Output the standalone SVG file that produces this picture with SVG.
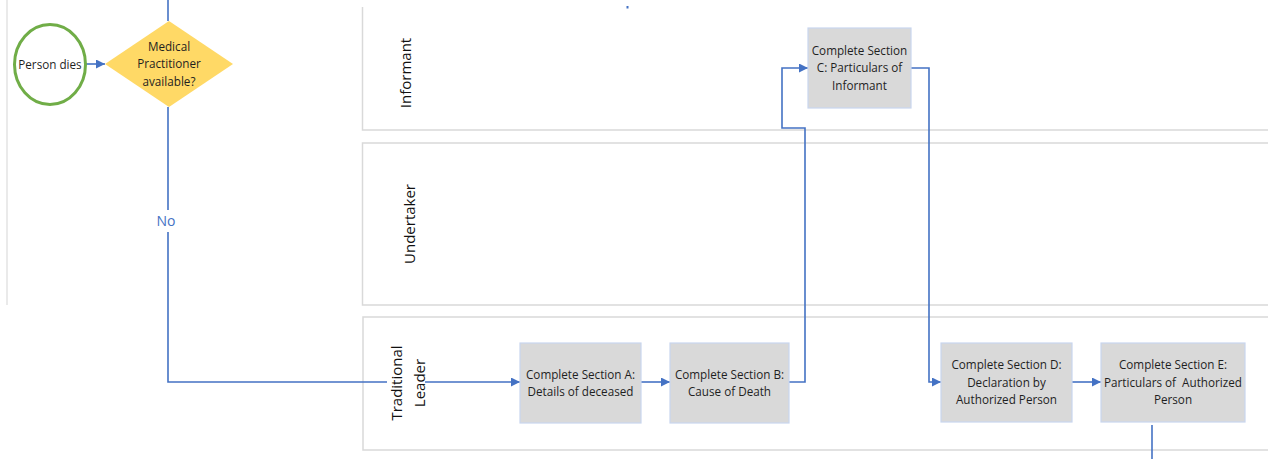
<svg xmlns="http://www.w3.org/2000/svg" width="1268" height="459" viewBox="0 0 1268 459">
  <style>
    .lane { fill: #ffffff; stroke: #d9d9d9; stroke-width: 1.5; }
    .lane-label { font-family: "Open Sans", "Liberation Sans", sans-serif; font-size: 15px; fill: #111111; text-anchor: middle; }
    .step { fill: #d9d9d9; stroke: #c9d6ee; stroke-width: 1.2; }
    .step-text { font-family: "Open Sans", "Liberation Sans", sans-serif; font-size: 11.7px; fill: #1f1f1f; text-anchor: middle; }
    .flow { fill: none; stroke: #4472c4; stroke-width: 1.6; }
    .flow-label { font-family: "Open Sans", "Liberation Sans", sans-serif; font-size: 14px; fill: #4472c4; text-anchor: middle; }
  </style>
  <defs>
    <marker id="arrow" viewBox="0 0 10 10" refX="10" refY="5" markerWidth="9" markerHeight="9" markerUnits="userSpaceOnUse" orient="auto">
      <path d="M0,0 L10,5 L0,10 z" fill="#4472c4"/>
    </marker>
  </defs>

  <rect width="1268" height="459" fill="#ffffff"/>

  <!-- left margin rule -->
  <line x1="7" y1="0" x2="7" y2="305" stroke="#e3e3e3" stroke-width="1.5"/>

  <!-- swimlanes -->
  <g id="lane-informant">
    <path class="lane" d="M1270,130 H362.5 V7"/>
    <text class="lane-label" transform="translate(411,73) rotate(-90)">Informant</text>
  </g>
  <g id="lane-undertaker">
    <rect class="lane" x="362.5" y="143" width="910" height="162"/>
    <text class="lane-label" transform="translate(415,224) rotate(-90)">Undertaker</text>
  </g>
  <g id="lane-traditional-leader">
    <rect class="lane" x="363" y="317" width="910" height="133"/>
  </g>

  <!-- connectors -->
  <g id="connectors">
    <line class="flow" x1="168" y1="0" x2="168" y2="21"/>
    <line class="flow" x1="86" y1="64" x2="105" y2="64" marker-end="url(#arrow)"/>
    <path class="flow" d="M168,107 V382 H520" marker-end="url(#arrow)"/>
    <path class="flow" d="M641,382 H670" marker-end="url(#arrow)"/>
    <path class="flow" d="M789,382 H805 V128 H782 V68 H808" marker-end="url(#arrow)"/>
    <path class="flow" d="M911,68 H929 V382 H941" marker-end="url(#arrow)"/>
    <path class="flow" d="M1072,382 H1101" marker-end="url(#arrow)"/>
    <line class="flow" x1="1152" y1="425" x2="1152" y2="459"/>
    <rect x="626.5" y="6" width="2" height="2.5" fill="#4472c4"/>
    <!-- "No" label sits on a gap in the line -->
    <rect x="154" y="210" width="24" height="22" fill="#ffffff"/>
    <text class="flow-label" x="166" y="226">No</text>
  </g>

  <!-- lane label drawn over the incoming connector -->
  <g id="lane-traditional-leader-label">
    <rect x="387" y="340" width="38" height="84" fill="#ffffff"/>
    <text class="lane-label" transform="translate(402,383) rotate(-90)">Traditional</text>
    <text class="lane-label" transform="translate(425,383) rotate(-90)">Leader</text>
  </g>

  <!-- nodes -->
  <g id="person-dies">
    <ellipse cx="50" cy="64.5" rx="35.5" ry="40" fill="#ffffff" stroke="#70ad47" stroke-width="3"/>
    <text class="step-text" font-size="10.2" x="50" y="68.5">Person dies</text>
  </g>
  <g id="medical-practitioner">
    <polygon points="169,21 233,64 169,107 105,64" fill="#ffd966"/>
    <text class="step-text" font-size="12.5" x="169" y="51">Medical</text>
    <text class="step-text" font-size="12.5" x="169" y="68">Practitioner</text>
    <text class="step-text" font-size="12.5" x="169" y="86">available?</text>
  </g>
  <g id="section-a">
    <rect class="step" x="520" y="343" width="121" height="80"/>
    <text class="step-text" x="580.5" y="379">Complete Section A:</text>
    <text class="step-text" x="580.5" y="396">Details of deceased</text>
  </g>
  <g id="section-b">
    <rect class="step" x="670" y="343" width="119" height="80"/>
    <text class="step-text" x="729.5" y="379">Complete Section B:</text>
    <text class="step-text" x="729.5" y="396">Cause of Death</text>
  </g>
  <g id="section-c">
    <rect class="step" x="808" y="28" width="103" height="80"/>
    <text class="step-text" x="859.5" y="55">Complete Section</text>
    <text class="step-text" x="859.5" y="72">C: Particulars of</text>
    <text class="step-text" x="859.5" y="90">Informant</text>
  </g>
  <g id="section-d">
    <rect class="step" x="941" y="343" width="131" height="79"/>
    <text class="step-text" x="1006.5" y="369">Complete Section D:</text>
    <text class="step-text" x="1006.5" y="387">Declaration by</text>
    <text class="step-text" x="1006.5" y="404">Authorized Person</text>
  </g>
  <g id="section-e">
    <rect class="step" x="1101" y="343" width="144" height="79"/>
    <text class="step-text" x="1173" y="369">Complete Section E:</text>
    <text class="step-text" x="1173" y="387" xml:space="preserve">Particulars of  Authorized</text>
    <text class="step-text" x="1173" y="404">Person</text>
  </g>
</svg>
